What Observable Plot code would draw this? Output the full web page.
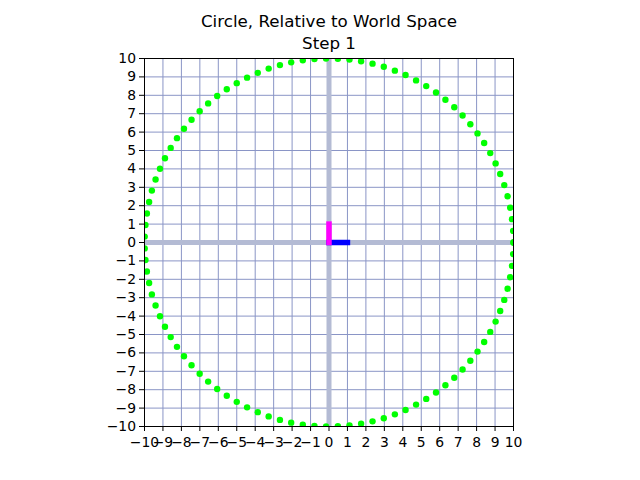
<!DOCTYPE html>
<html>
<head>
<meta charset="utf-8">
<script src="https://cdn.jsdelivr.net/npm/d3@7"></script>
<script src="https://cdn.jsdelivr.net/npm/@observablehq/plot@0.6"></script>
<style>
  html, body { margin: 0; padding: 0; background: #fff; }
  #chart svg { display: block; }
</style>
</head>
<body>
<div id="chart"></div>
<script>
const titleLines = ["Circle, Relative to World Space", "Step 1"];
const ticks = [-10,-9,-8,-7,-6,-5,-4,-3,-2,-1,0,1,2,3,4,5,6,7,8,9,10];

const circleX = [10, 9.98, 9.92, 9.82, 9.68, 9.50, 9.28, 9.03, 8.74, 8.41, 8.05, 7.66, 7.24, 6.79, 6.31, 5.80, 5.27, 4.72, 4.15, 3.57, 2.97, 2.36, 1.74, 1.11, 0.48, -0.16, -0.79, -1.42, -2.05, -2.66, -3.27, -3.86, -4.44, -5.00, -5.54, -6.06, -6.55, -7.01, -7.45, -7.86, -8.24, -8.58, -8.89, -9.16, -9.40, -9.60, -9.75, -9.87, -9.95, -9.99,
  -9.99, -9.95, -9.87, -9.75, -9.60, -9.40, -9.16, -8.89, -8.58, -8.24, -7.86, -7.45, -7.01, -6.55, -6.06, -5.54, -5.00, -4.44, -3.86, -3.27, -2.66, -2.05, -1.42, -0.79, -0.16, 0.48, 1.11, 1.74, 2.36, 2.97, 3.57, 4.15, 4.72, 5.27, 5.80, 6.31, 6.79, 7.24, 7.66, 8.05, 8.41, 8.74, 9.03, 9.28, 9.50, 9.68, 9.82, 9.92, 9.98, 10];
const circleY = [0, 0.63, 1.27, 1.89, 2.51, 3.12, 3.72, 4.30, 4.86, 5.41, 5.93, 6.43, 6.90, 7.35, 7.76, 8.15, 8.50, 8.81, 9.10, 9.34, 9.55, 9.72, 9.85, 9.94, 9.99, 10.00, 9.97, 9.90, 9.79, 9.64, 9.45, 9.22, 8.96, 8.66, 8.33, 7.96, 7.56, 7.13, 6.67, 6.18, 5.67, 5.14, 4.58, 4.01, 3.42, 2.82, 2.20, 1.58, 0.95, 0.32,
  -0.32, -0.95, -1.58, -2.20, -2.82, -3.42, -4.01, -4.58, -5.14, -5.67, -6.18, -6.67, -7.13, -7.56, -7.96, -8.33, -8.66, -8.96, -9.22, -9.45, -9.64, -9.79, -9.90, -9.97, -10.00, -9.99, -9.94, -9.85, -9.72, -9.55, -9.34, -9.10, -8.81, -8.50, -8.15, -7.76, -7.35, -6.90, -6.43, -5.93, -5.41, -4.86, -4.30, -3.72, -3.12, -2.51, -1.89, -1.27, -0.63, 0];

// basis vectors of the circle's local frame: [x1, y1, x2, y2]
const basisX = [0, 0, 1, 0];
const basisY = [0, 0, 0, 1];

const points = circleX.map((x, i) => ({x, y: circleY[i]}));
const fmt = d => d < 0 ? "\u2212" + (-d) : String(d);
const font = "DejaVu Sans, sans-serif";

const chart = Plot.plot({
  width: 640,
  height: 480,
  marginLeft: 144,
  marginRight: 127,
  marginTop: 58,
  marginBottom: 54,
  style: {fontFamily: font, fontSize: "13.9px", background: "#fff", color: "#000"},
  x: {domain: [-10, 10], ticks: ticks, tickFormat: fmt, label: null},
  y: {domain: [-10, 10], ticks: ticks, tickFormat: fmt, label: null},
  marks: [
    Plot.gridX(ticks, {stroke: "#8a95c6", strokeOpacity: 1, strokeWidth: 1}),
    Plot.gridY(ticks, {stroke: "#8a95c6", strokeOpacity: 1, strokeWidth: 1}),
    Plot.ruleX([0], {stroke: "#b4bbd4", strokeWidth: 5}),
    Plot.ruleY([0], {stroke: "#b4bbd4", strokeWidth: 5}),
    Plot.link([basisX], {x1: d => d[0], y1: d => d[1], x2: d => d[2], y2: d => d[3], stroke: "#0000ff", strokeWidth: 5.5, strokeLinecap: "square"}),
    Plot.link([basisY], {x1: d => d[0], y1: d => d[1], x2: d => d[2], y2: d => d[3], stroke: "#ff00ff", strokeWidth: 5.5, strokeLinecap: "square"}),
    Plot.dot(points, {x: "x", y: "y", r: 3.2, fill: "#00ff00", stroke: null, clip: true}),
    Plot.frame({stroke: "#000", strokeWidth: 1}),
    Plot.axisX(ticks, {tickSize: 5, tickPadding: 6, tickFormat: fmt, stroke: "#000"}),
    Plot.axisY(ticks, {tickSize: 5, tickPadding: 3.5, tickFormat: fmt, stroke: "#000"}),
    Plot.text([titleLines[0]], {frameAnchor: "top", dy: -37, fontSize: 16.7, fill: "#000", lineAnchor: "middle", text: d => d}),
    Plot.text([titleLines[1]], {frameAnchor: "top", dy: -15, fontSize: 16.7, fill: "#000", lineAnchor: "middle", text: d => d})
  ]
});
document.getElementById("chart").appendChild(chart);
</script>
</body>
</html>
